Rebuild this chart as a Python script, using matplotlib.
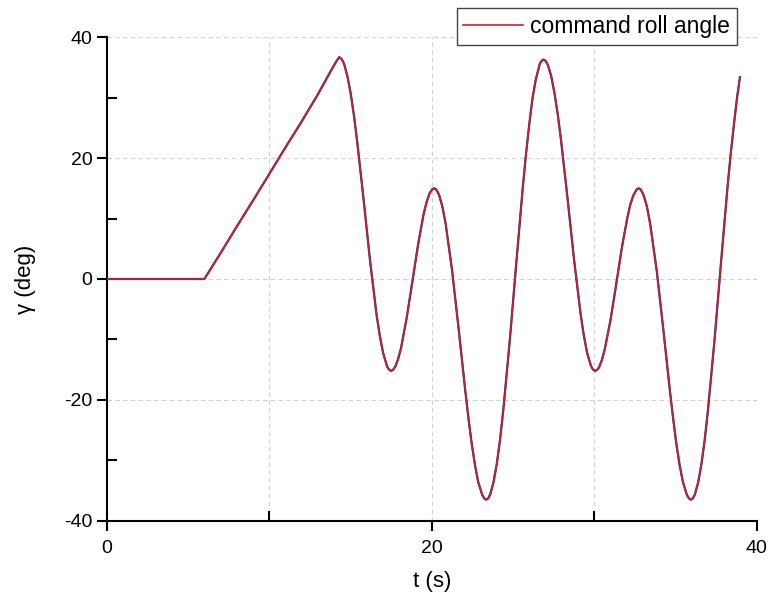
import matplotlib.pyplot as plt
from matplotlib.ticker import MultipleLocator

plt.rcParams["font.family"] = ["Liberation Sans", "DejaVu Sans"]
plt.rcParams["axes.unicode_minus"] = False

# roll angle command (t in s, gamma in deg)
t = [0.0, 6.0, 7.0, 8.0, 9.0, 10.0, 11.0, 12.0, 13.0, 13.8, 14.1, 14.2, 14.3,
     14.45, 14.6, 14.8, 15.0, 15.2, 15.4, 15.8, 16.2, 16.6, 16.8, 17.0, 17.25, 17.37, 17.49,
     17.61, 17.75, 17.92, 18.1, 18.45, 18.8, 19.15, 19.5, 19.68, 19.85, 20.03, 20.15,
     20.27, 20.45, 20.65, 20.85, 21.25, 21.65, 22.05, 22.25, 22.45, 22.65, 22.85, 23.1, 23.23, 23.35,
     23.47, 23.6, 23.8, 24.0, 24.2, 24.4, 24.8, 25.2, 25.6, 25.8, 26.0, 26.2, 26.4, 26.65, 26.76, 26.88,
     27.0, 27.15, 27.35, 27.55, 27.75, 27.95, 28.35, 28.75, 29.15, 29.35, 29.55, 29.8, 29.93, 30.05,
     30.17, 30.3, 30.47, 30.65, 31.0, 31.35, 31.7, 32.05, 32.22, 32.4, 32.62, 32.74,
     32.86, 33.05, 33.25, 33.45, 33.85, 34.25, 34.65, 34.85, 35.05, 35.25, 35.45, 35.7, 35.83, 35.95,
     36.07, 36.2, 36.4, 36.6, 36.8, 37.0, 37.4, 37.8, 38.2, 38.4, 38.6, 38.8, 38.97]
gamma = [0.0, 0.0, 4.3, 8.7, 13.0, 17.4, 21.8, 26.1, 30.6, 34.5, 35.9, 36.3, 36.7,
         36.4, 35.6, 33.6, 30.8, 27.2, 22.9, 13.2, 3.0, -5.9, -9.4, -12.2, -14.5, -15.0, -15.2,
         -15.05, -14.5, -13.3, -11.5, -6.5, -0.5, 5.6, 10.8, 12.7, 14.1, 14.85, 15.0,
         14.82, 13.9, 12.0, 9.2, 1.4, -8.2, -18.2, -22.9, -27.1, -30.65, -33.5, -35.7, -36.3, -36.5,
         -36.3, -35.6, -33.6, -30.6, -26.6, -21.7, -10.2, 2.6, 15.1, 20.7, 25.6, 29.9, 33.0, 35.6, 36.1, 36.3,
         36.1, 35.4, 33.55, 30.8, 27.3, 23.1, 13.5, 3.4, -5.6, -9.2, -12.1, -14.4, -15.0, -15.2,
         -15.05, -14.6, -13.4, -11.6, -6.8, -0.9, 5.2, 10.3, 12.3, 13.8, 14.85, 15.0,
         14.82, 13.8, 11.9, 9.0, 1.3, -8.3, -18.3, -22.9, -27.2, -30.7, -33.5, -35.7, -36.3, -36.5,
         -36.3, -35.6, -33.6, -30.6, -26.6, -21.7, -10.2, 2.6, 15.1, 20.7, 25.6, 30.2, 33.4]

fig = plt.figure(figsize=(7.69, 6.0), dpi=100)
ax = fig.add_axes([0.139, 0.132, 0.845, 0.806])

# actual response sits right under the command
ax.plot(t, gamma, color="#2a2a7a", lw=1.6, zorder=2, solid_joinstyle="round")
line, = ax.plot(t, gamma, color="#c8202c", lw=1.2, zorder=3, solid_joinstyle="round")

ax.set_xlim(0, 40)
ax.set_ylim(-40, 40)
ax.xaxis.set_major_locator(MultipleLocator(20))
ax.xaxis.set_minor_locator(MultipleLocator(10))
ax.yaxis.set_major_locator(MultipleLocator(20))
ax.yaxis.set_minor_locator(MultipleLocator(10))

for s in ["top", "right"]:
    ax.spines[s].set_visible(False)
for s in ["left", "bottom"]:
    ax.spines[s].set_linewidth(1.5)

ax.tick_params(which="major", direction="out", length=7, width=1.5, labelsize=14)
ax.tick_params(axis="x", which="major", pad=7)
ax.tick_params(which="minor", direction="in", length=7, width=1.5)

ax.grid(True, which="both", axis="x", color="#d0d0d0", ls=(0, (4, 3)), lw=0.8)
ax.grid(True, which="major", axis="y", color="#d0d0d0", ls=(0, (4, 3)), lw=0.8)
ax.set_axisbelow(True)

ax.set_xlabel("t (s)", fontsize=16, labelpad=10)
ax.set_ylabel("γ (deg)", fontsize=16, labelpad=20)

leg = fig.legend([line], ["command roll angle"], loc="upper right",
                 bbox_to_anchor=(0.958, 0.987), borderaxespad=0,
                 fontsize=16.5, handlelength=2.6, handletextpad=0.3,
                 borderpad=0.3, fancybox=False, framealpha=1)
leg.get_frame().set_edgecolor("#444444")
leg.get_frame().set_linewidth(1.0)

fig.savefig("out.png", dpi=100)
